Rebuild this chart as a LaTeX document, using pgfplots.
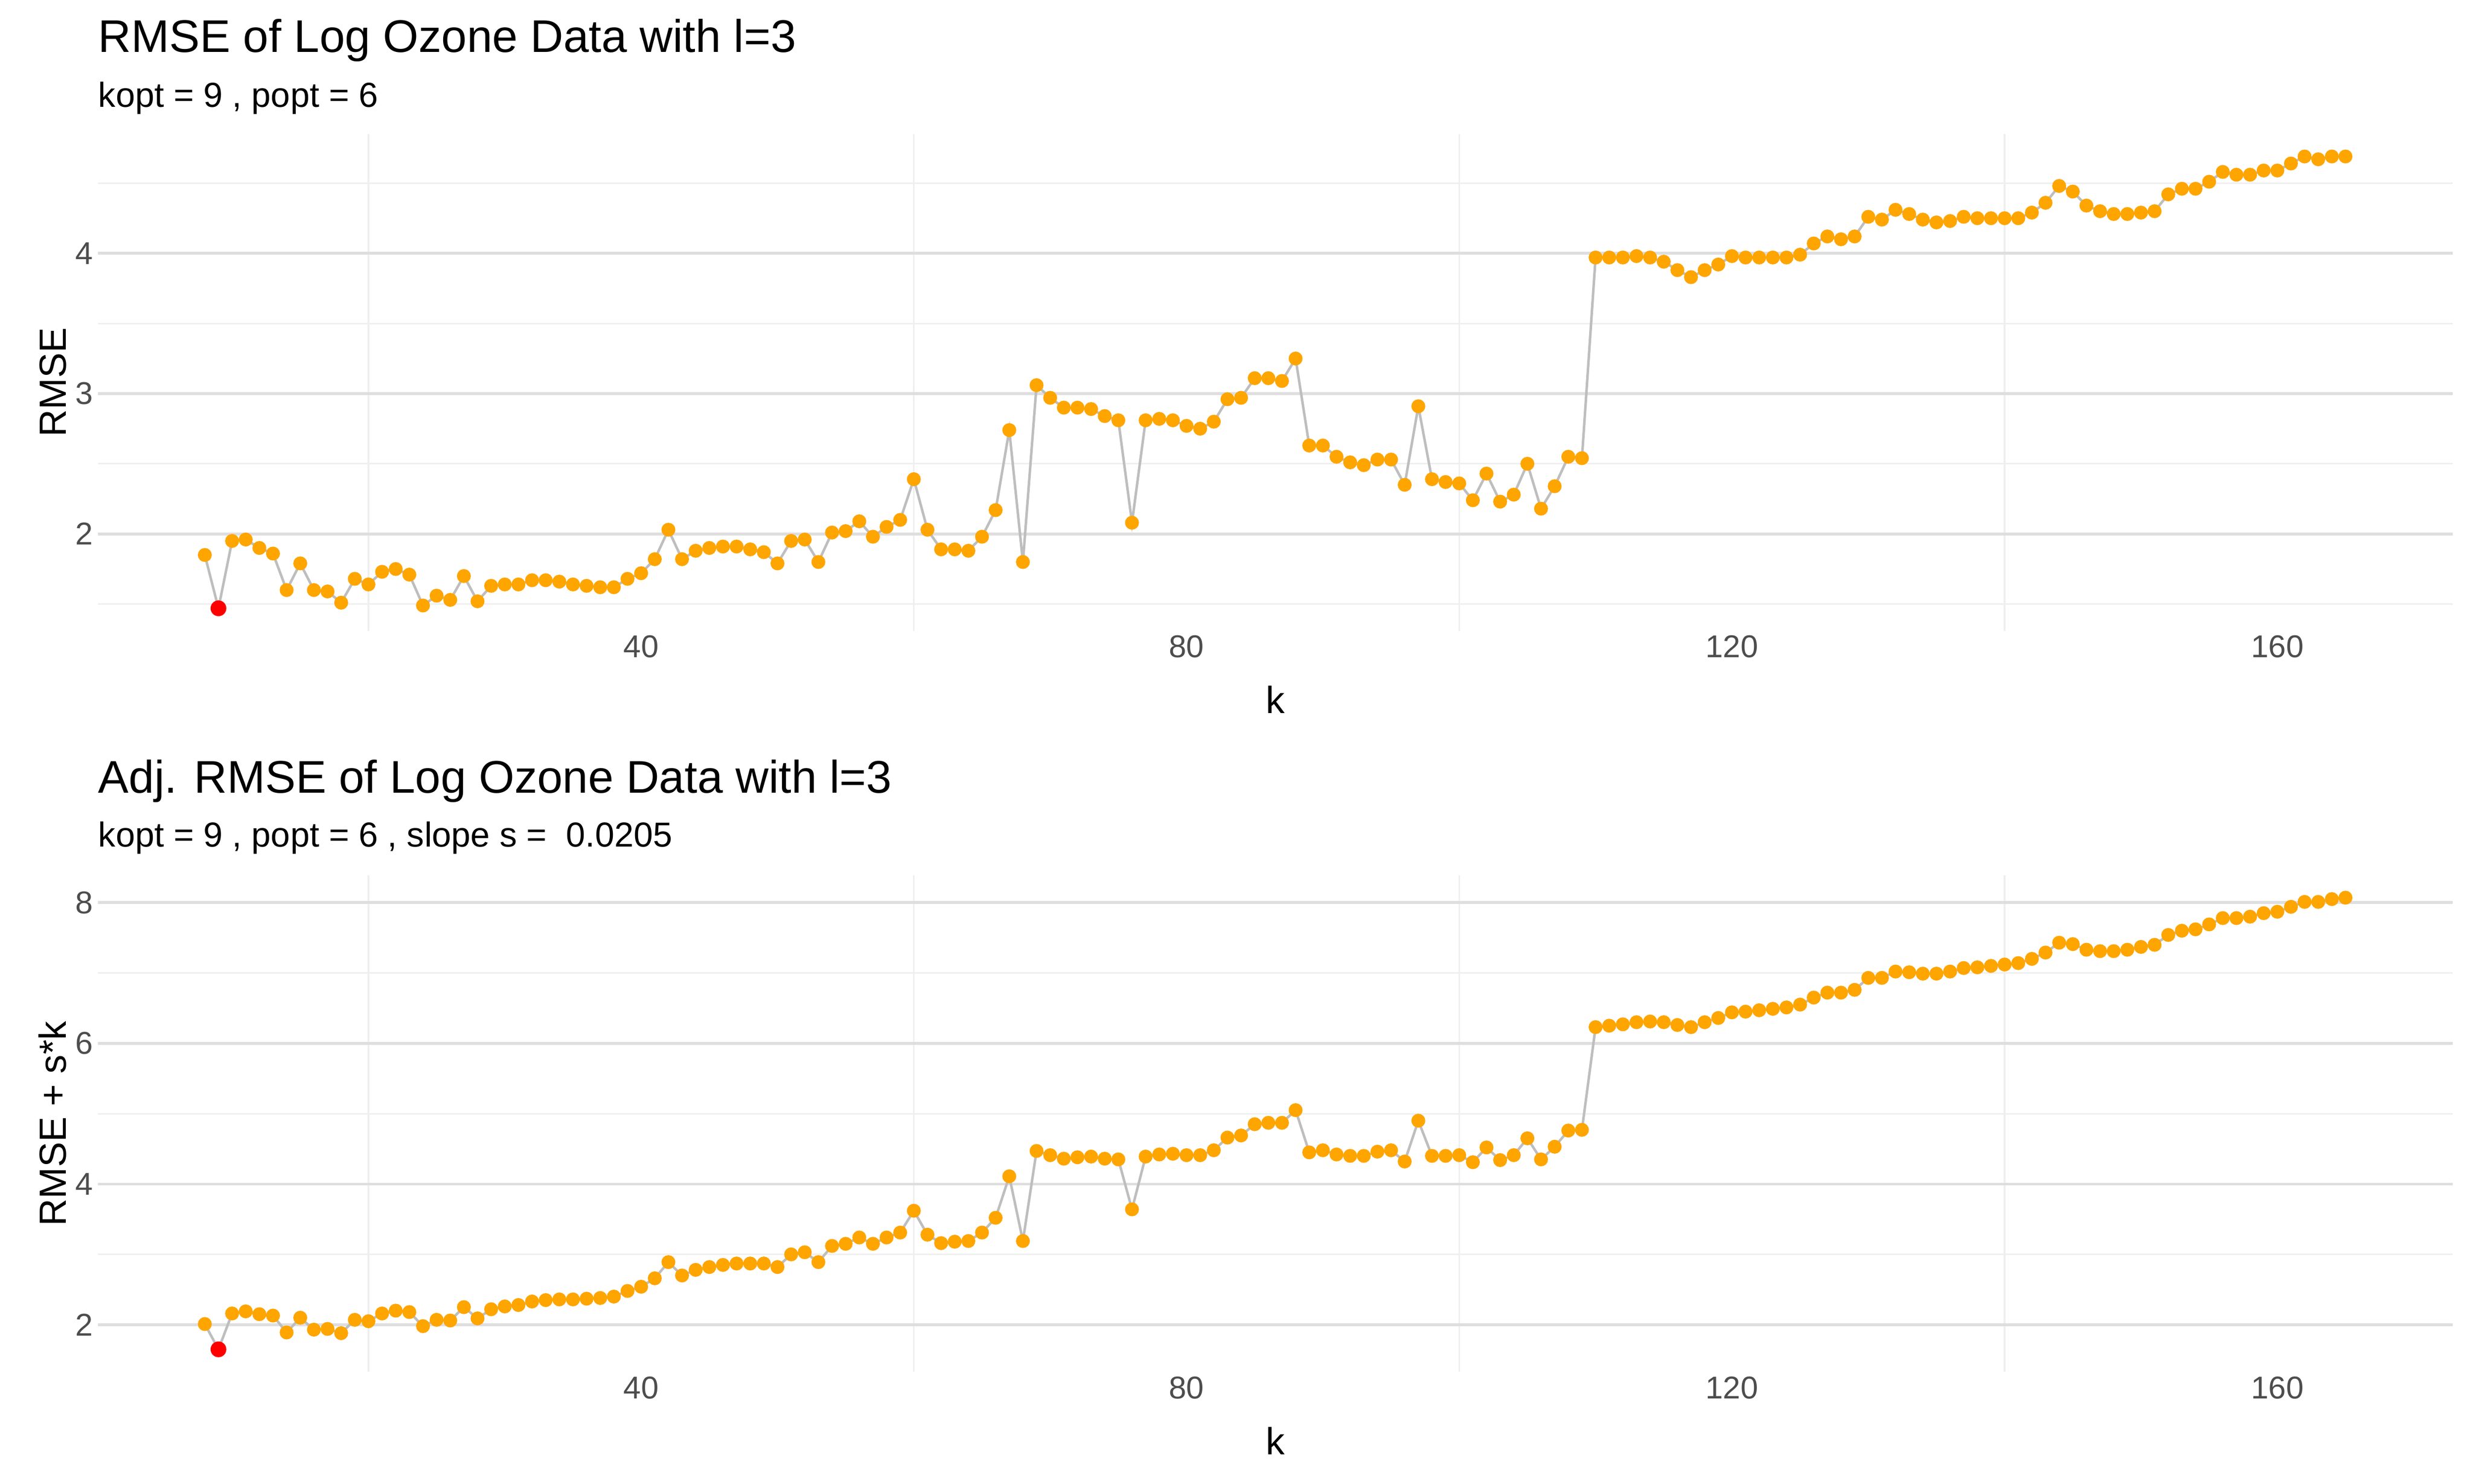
\documentclass[border=0pt]{standalone}
\usepackage{pgfplots}
\pgfplotsset{compat=1.18}
\usepackage{pgfplotstable}
\usepackage{fontspec}
\setmainfont{Liberation Sans}
\definecolor{majg}{HTML}{DEDEDE}
\definecolor{ming}{HTML}{EFEFEF}
\definecolor{tickc}{HTML}{4D4D4D}
\definecolor{lineg}{HTML}{BEBEBE}
\definecolor{orng}{HTML}{FFA500}
\pgfplotstableread{
k r a
8 1.85 2.01
9 1.47 1.65
10 1.95 2.16
11 1.96 2.19
12 1.90 2.15
13 1.86 2.13
14 1.60 1.89
15 1.79 2.10
16 1.60 1.93
17 1.59 1.94
18 1.51 1.88
19 1.68 2.07
20 1.64 2.05
21 1.73 2.16
22 1.75 2.20
23 1.71 2.18
24 1.49 1.98
25 1.56 2.07
26 1.53 2.06
27 1.70 2.25
28 1.52 2.09
29 1.63 2.22
30 1.64 2.26
31 1.64 2.28
32 1.67 2.33
33 1.67 2.35
34 1.66 2.36
35 1.64 2.36
36 1.63 2.37
37 1.62 2.38
38 1.62 2.40
39 1.68 2.48
40 1.72 2.54
41 1.82 2.66
42 2.03 2.89
43 1.82 2.70
44 1.88 2.78
45 1.90 2.82
46 1.91 2.85
47 1.91 2.87
48 1.89 2.87
49 1.87 2.87
50 1.79 2.82
51 1.95 3.00
52 1.96 3.03
53 1.80 2.89
54 2.01 3.12
55 2.02 3.15
56 2.09 3.24
57 1.98 3.15
58 2.05 3.24
59 2.10 3.31
60 2.39 3.62
61 2.03 3.28
62 1.89 3.16
63 1.89 3.18
64 1.88 3.19
65 1.98 3.31
66 2.17 3.52
67 2.74 4.11
68 1.80 3.19
69 3.06 4.47
70 2.97 4.41
71 2.90 4.36
72 2.90 4.38
73 2.89 4.39
74 2.84 4.36
75 2.81 4.35
76 2.08 3.64
77 2.81 4.39
78 2.82 4.42
79 2.81 4.43
80 2.77 4.41
81 2.75 4.41
82 2.80 4.48
83 2.96 4.66
84 2.97 4.69
85 3.11 4.85
86 3.11 4.87
87 3.09 4.87
88 3.25 5.05
89 2.63 4.45
90 2.63 4.48
91 2.55 4.42
92 2.51 4.40
93 2.49 4.40
94 2.53 4.46
95 2.53 4.48
96 2.35 4.32
97 2.91 4.90
98 2.39 4.40
99 2.37 4.40
100 2.36 4.41
101 2.24 4.31
102 2.43 4.52
103 2.23 4.34
104 2.28 4.41
105 2.50 4.65
106 2.18 4.35
107 2.34 4.53
108 2.55 4.76
109 2.54 4.77
110 3.97 6.23
111 3.97 6.25
112 3.97 6.27
113 3.98 6.30
114 3.97 6.31
115 3.94 6.30
116 3.88 6.26
117 3.83 6.23
118 3.88 6.30
119 3.92 6.36
120 3.98 6.44
121 3.97 6.45
122 3.97 6.47
123 3.97 6.49
124 3.97 6.51
125 3.99 6.55
126 4.07 6.65
127 4.12 6.72
128 4.10 6.72
129 4.12 6.76
130 4.26 6.93
131 4.24 6.93
132 4.31 7.02
133 4.28 7.01
134 4.24 6.99
135 4.22 6.99
136 4.23 7.02
137 4.26 7.07
138 4.25 7.08
139 4.25 7.10
140 4.25 7.12
141 4.25 7.14
142 4.29 7.20
143 4.36 7.29
144 4.48 7.43
145 4.44 7.41
146 4.34 7.33
147 4.30 7.31
148 4.28 7.31
149 4.28 7.33
150 4.29 7.37
151 4.30 7.40
152 4.42 7.54
153 4.46 7.60
154 4.46 7.62
155 4.51 7.69
156 4.58 7.78
157 4.56 7.78
158 4.56 7.80
159 4.59 7.85
160 4.59 7.87
161 4.64 7.94
162 4.69 8.01
163 4.67 8.01
164 4.69 8.05
165 4.69 8.07
}\data
\pgfplotstableread{
k r a
9 1.47 1.65
}\opt
\pgfplotsset{
  gg/.style={
    scale only axis, width=746.5pt, height=157.5pt,
    axis line style={draw=none}, tick style={draw=none},
    xmin=0.15, xmax=172.85,
    xtick={40,80,120,160}, minor xtick={20,60,100,140},
    xmajorgrids=false, xminorgrids=true, ymajorgrids=true, yminorgrids=true,
    major grid style={majg, line width=0.9pt},
    minor grid style={ming, line width=0.5pt},
    tick label style={font=\fontsize{10}{12}\selectfont, text=tickc},
    /pgf/number format/assume math mode=true,
    xlabel={k}, xlabel style={font=\fontsize{12}{14}\selectfont, yshift=-2pt},
    ylabel style={font=\fontsize{12}{14}\selectfont, yshift=-4pt},
    xticklabel style={yshift=2pt},
    yticklabel style={xshift=2pt},
  }
}
\begin{document}
\begin{tikzpicture}
\path (0,0) rectangle (784pt,-470.5pt);
\node[anchor=base west, inner sep=0pt, font=\fontsize{14.5}{16}\selectfont] at (31pt,-16.5pt) {RMSE of Log Ozone Data with l=3};
\node[anchor=base west, inner sep=0pt, font=\fontsize{11}{13}\selectfont] at (31pt,-34pt) {kopt = 9 , popt = 6};
\node[anchor=base west, inner sep=0pt, font=\fontsize{14.5}{16}\selectfont] at (31pt,-251.5pt) {Adj. RMSE of Log Ozone Data with l=3};
\node[anchor=base west, inner sep=0pt, font=\fontsize{11}{13}\selectfont] at (31pt,-268.5pt) {kopt = 9 , popt = 6 , slope s =\ \ 0.0205};
\begin{axis}[gg, at={(31pt,-42.5pt)}, anchor=north west,
  ymin=1.31, ymax=4.85, ytick={2,3,4}, minor ytick={1.5,2.5,3.5,4.5},
  ylabel={RMSE}]
\addplot[lineg, line width=0.8pt, mark=*, mark size=1.8pt, mark options={draw=orng, fill=orng}] table[x=k, y=r] {\data};
\addplot[only marks, mark=*, mark size=2.3pt, mark options={draw=red, fill=red}] table[x=k, y=r] {\opt};
\end{axis}
\begin{axis}[gg, at={(31pt,-277.5pt)}, anchor=north west,
  ymin=1.33, ymax=8.39, ytick={2,4,6,8}, minor ytick={3,5,7},
  ylabel={RMSE + s*k}]
\addplot[lineg, line width=0.8pt, mark=*, mark size=1.8pt, mark options={draw=orng, fill=orng}] table[x=k, y=a] {\data};
\addplot[only marks, mark=*, mark size=2.3pt, mark options={draw=red, fill=red}] table[x=k, y=a] {\opt};
\end{axis}
\end{tikzpicture}
\end{document}
